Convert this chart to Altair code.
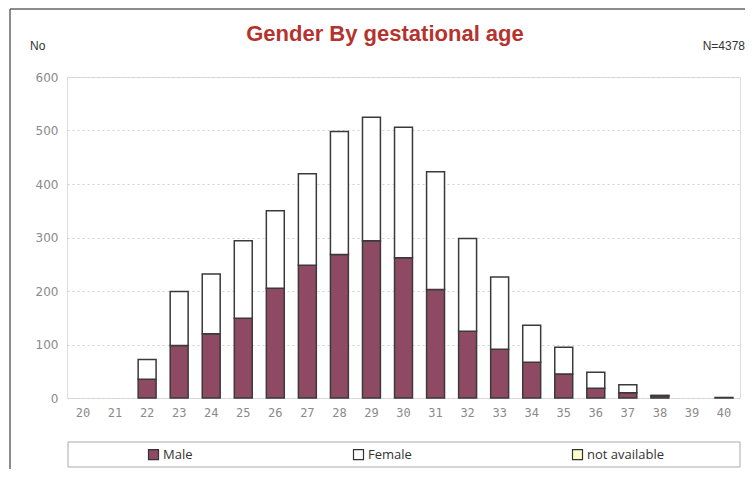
import altair as alt
import pandas as pd

ages = list(range(20, 41))
male = [0, 0, 35, 98, 120, 149, 205, 248, 268, 294, 262, 203, 125, 91, 67, 45, 18, 10, 4, 0, 1]
female = [0, 0, 37, 101, 112, 145, 145, 171, 230, 231, 244, 220, 173, 135, 69, 50, 30, 15, 1, 0, 0]
not_available = [0] * 21
categories = ["Male", "Female", "not available"]
colors = ["#8E4A62", "#FFFFFF", "#FFFFCC"]

rows = []
for i, a in enumerate(ages):
    for k, (cat, vals) in enumerate(zip(categories, [male, female, not_available])):
        rows.append({"age": str(a), "gender": cat, "count": vals[i], "order": k})
df = pd.DataFrame(rows)

W, H = 673, 321

bars = alt.Chart(df).transform_filter("datum.count > 0").mark_bar(
    stroke="#3a3a3a", strokeWidth=1.5
).encode(
    x=alt.X("age:N", sort=[str(a) for a in ages],
            scale=alt.Scale(domain=[str(a) for a in ages], paddingInner=0.44, paddingOuter=0.22),
            axis=alt.Axis(title=None, labelAngle=0, ticks=False, domain=False,
                          labelColor="#8a8a8a", labelFont="DejaVu Sans Mono",
                          labelFontSize=12, labelPadding=9)),
    y=alt.Y("sum(count):Q", stack="zero",
            scale=alt.Scale(domain=[0, 600], nice=False),
            axis=alt.Axis(title=None, values=[0, 100, 200, 300, 400, 500, 600],
                          ticks=False, domain=False, labelColor="#8a8a8a",
                          labelFont="DejaVu Sans", labelFontSize=12, labelPadding=9,
                          gridColor="#d0d0d0", gridDash=[2, 3], gridWidth=1)),
    color=alt.Color("gender:N", scale=alt.Scale(domain=categories, range=colors),
                    legend=alt.Legend(title=None, orient="none", direction="horizontal",
                                      legendX=80, legendY=371, symbolType="square",
                                      symbolSize=100, symbolStrokeColor="#333",
                                      symbolStrokeWidth=1.2, columnPadding=158,
                                      labelFont="Open Sans", labelFontSize=13,
                                      labelColor="#333", labelOffset=3)),
    order=alt.Order("order:Q", sort="ascending"),
)

one = pd.DataFrame({"a": [0]})

legend_box = alt.Chart(one).mark_rect(fill="transparent", stroke="#aaaaaa", strokeWidth=1).encode(
    x=alt.value(1), x2=alt.value(673), y=alt.value(365), y2=alt.value(390)
)

frame_top = alt.Chart(one).mark_rule(color="#666", strokeWidth=1.5).encode(
    x=alt.value(-57), x2=alt.value(690), y=alt.value(-68)
)
frame_left = alt.Chart(one).mark_rule(color="#666", strokeWidth=1.5).encode(
    x=alt.value(-57), y=alt.value(-68), y2=alt.value(395)
)

title_text = alt.Chart(one).mark_text(align="center", baseline="middle", fontSize=22,
                                      font="Liberation Sans", fontWeight="bold",
                                      color="#B5332E").encode(
    x=alt.value(318), y=alt.value(-43), text=alt.value("Gender By gestational age")
)
no_text = alt.Chart(one).mark_text(align="left", baseline="middle", fontSize=12,
                                   font="Liberation Sans", color="#333").encode(
    x=alt.value(-37), y=alt.value(-31), text=alt.value("No")
)
n_text = alt.Chart(one).mark_text(align="right", baseline="middle", fontSize=12,
                                  font="Liberation Sans", color="#333").encode(
    x=alt.value(678), y=alt.value(-31), text=alt.value("N=4378")
)

chart = alt.layer(frame_top, frame_left, bars, legend_box, title_text, no_text, n_text).properties(
    width=W, height=H,
    autosize=alt.AutoSizeParams(type="none"),
    padding={"left": 59, "top": 69, "right": 5, "bottom": 71},
).configure_view(stroke="#777777", strokeDash=[2, 1], strokeWidth=1.2).configure(
    background="white"
)

chart.save("out.html", embed_options={"renderer": "svg", "actions": False})
